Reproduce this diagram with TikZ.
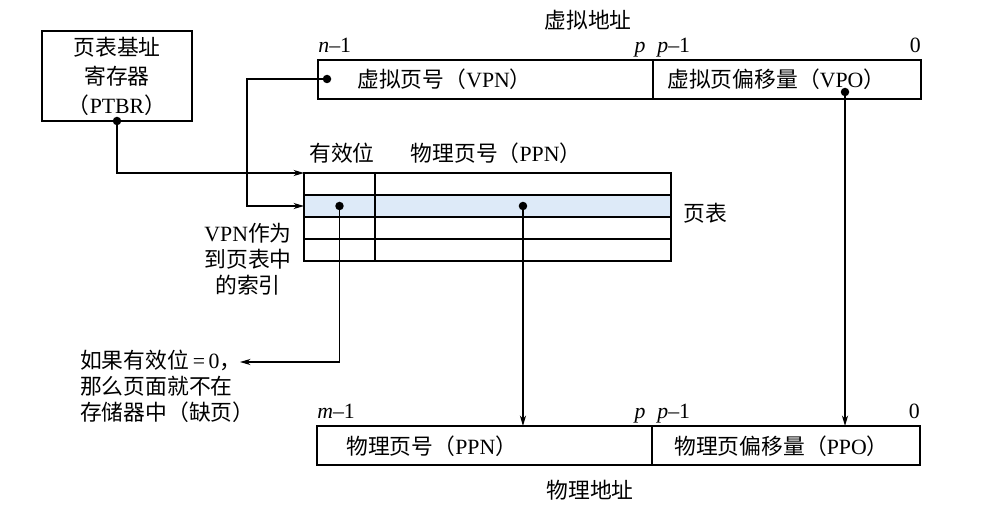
\documentclass[tikz,border=0pt]{standalone}
\usepackage{fontspec}
\setmainfont{Liberation Serif}
\newfontfamily\cjk{Noto Sans CJK SC}
\newcommand{\zh}[1]{{\cjk #1}}
\usepackage{tikz}
\usetikzlibrary{arrows.meta, positioning}
\definecolor{rowblue}{RGB}{221,234,248}

\begin{document}
\begin{tikzpicture}[
	x=0.02cm, y=-0.02cm,
	every node/.style={font=\fontsize{12.4}{15}\selectfont},
	field/.style={rectangle, draw=black, line width=1.1pt, minimum height=0.78cm, inner sep=0pt, outer sep=0pt},
	cell/.style={rectangle, draw=black, line width=1.1pt, minimum height=0.44cm, inner sep=0pt, outer sep=0pt, anchor=north west},
	dot/.style={circle, fill=black, inner sep=0pt, minimum size=0.17cm},
	arrow/.style={-{Stealth[length=6pt,width=3.5pt]}, line width=0.7pt}
]
\useasboundingbox (0,0) rectangle (999,513);

% Page table base register
\node[field, minimum width=3cm, minimum height=1.8cm, align=center, font=\fontsize{12.4}{16.5}\selectfont] (ptbr) at (117,76) {\zh{页表基址}\\\zh{寄存器}\\\zh{（}PTBR\zh{）}};

% Virtual address
\node (vaddr) at (588,20) {\zh{虚拟地址}};
\node[field, minimum width=6.7cm, anchor=north west] (vpn) at (318,60) {};
\node[field, minimum width=5.36cm, right=0pt of vpn] (vpo) {};
\node[anchor=west, inner sep=0pt] (vpntext) at (357,79) {\zh{虚拟页号（}VPN\zh{）}};
\node[anchor=west, inner sep=0pt] (vpotext) at (667,79) {\zh{虚拟页偏移量（}VPO\zh{）}};
\node[anchor=base west, inner sep=0pt] (vn) at (318,53) {\textit{n}–1};
\node[anchor=base, inner sep=0pt] (vp) at (640,53) {\textit{p}};
\node[anchor=base west, inner sep=0pt] (vp1) at (657,53) {\textit{p}–1};
\node[anchor=base east, inner sep=0pt] (v0bit) at (921,53) {0};

% Page table
\node (validlbl) at (342,153) {\zh{有效位}};
\node (ppnlbl) at (496,153) {\zh{物理页号（}PPN\zh{）}};
\foreach \i/\f in {0/white,1/rowblue,2/white,3/white} {
	\node[cell, minimum width=1.42cm, fill=\f] (v\i) at (304,173+22*\i) {};
	\node[cell, minimum width=5.92cm, fill=\f] (p\i) at (375,173+22*\i) {};
}
\node (ptlbl) at (705,213) {\zh{页表}};
\node[align=center, font=\fontsize{12.4}{14.8}\selectfont] (idx) at (248,259) {VPN\zh{作为}\\\zh{到页表中}\\\zh{的索引}};

% Page fault note
\node[align=left, anchor=west, font=\fontsize{12.4}{14.8}\selectfont] (miss) at (74,386) {\zh{如果有效位}\,=\,0\zh{，}\\\zh{那么页面就不在}\\\zh{存储器中（缺页）}};
\coordinate (misstip) at (240,362);

% Physical address
\node[field, minimum width=6.7cm, anchor=north west] (ppn) at (317,426) {};
\node[field, minimum width=5.36cm, right=0pt of ppn] (ppo) {};
\node[anchor=west, inner sep=0pt] (ppntext) at (346,446) {\zh{物理页号（}PPN\zh{）}};
\node[anchor=west, inner sep=0pt] (ppotext) at (674,446) {\zh{物理页偏移量（}PPO\zh{）}};
\node[anchor=base west, inner sep=0pt] (pm) at (317,418) {\textit{m}–1};
\node[anchor=base, inner sep=0pt] (pp) at (640,418) {\textit{p}};
\node[anchor=base west, inner sep=0pt] (pp1) at (657,418) {\textit{p}–1};
\node[anchor=base east, inner sep=0pt] (p0bit) at (920,418) {0};
\node (paddr) at (590,490) {\zh{物理地址}};

% Dots
\node[dot] (ptbrdot) at (ptbr.south) {};
\node[dot] (vpndot) at (327,79) {};
\node[dot] (vpodot) at (845,92) {};
\node[dot] (vdot) at (v1) {};
\node[dot] (pdot) at (p1) {};

% Connectors
\draw[arrow] (ptbrdot.center) |- (v0.north west);
\draw[arrow] (vpndot.center) -- ++(-80,0) |- (v1.west);
\draw[arrow] (vdot.center) |- (misstip);
\draw[arrow] (pdot.center) -- (pdot.center |- ppn.north);
\draw[arrow] (vpodot.center) -- (vpodot.center |- ppo.north);
\end{tikzpicture}
\end{document}
